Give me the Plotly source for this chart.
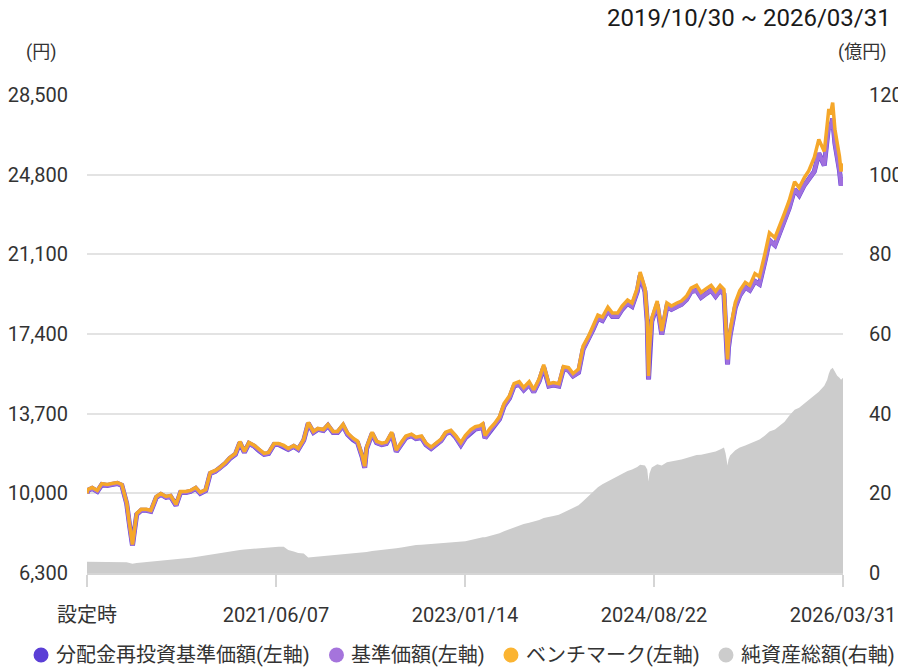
import plotly.graph_objects as go

dates = [
"2019-10-30","2019-11-01","2019-11-15","2019-12-01","2019-12-15",
"2020-01-01","2020-01-15","2020-02-01","2020-02-15","2020-03-01","2020-03-10","2020-03-19",
"2020-04-01","2020-04-15","2020-05-01","2020-05-15","2020-06-01","2020-06-15",
"2020-07-01","2020-07-15","2020-08-01","2020-08-15","2020-09-01","2020-09-15",
"2020-10-01","2020-10-15","2020-11-01","2020-11-15","2020-12-01","2020-12-15",
"2021-01-01","2021-01-15","2021-02-01","2021-02-15","2021-03-01","2021-03-15",
"2021-04-01","2021-04-15","2021-05-01","2021-05-15","2021-06-01","2021-06-15",
"2021-07-01","2021-07-15","2021-08-01","2021-08-15","2021-09-01","2021-09-15",
"2021-10-01","2021-10-15","2021-11-01","2021-11-15","2021-12-01","2021-12-15",
"2022-01-01","2022-01-15","2022-02-01","2022-02-15","2022-03-01","2022-03-09","2022-03-15",
"2022-04-01","2022-04-15","2022-05-01","2022-05-15","2022-06-01","2022-06-15",
"2022-07-01","2022-07-15","2022-08-01","2022-08-15","2022-09-01","2022-09-15",
"2022-10-01","2022-10-15","2022-11-01","2022-11-15","2022-12-01","2022-12-15",
"2023-01-01","2023-01-15","2023-02-01","2023-02-15","2023-03-01","2023-03-10","2023-03-17",
"2023-04-01","2023-04-15","2023-05-01","2023-05-15","2023-06-01","2023-06-15",
"2023-07-01","2023-07-15","2023-08-01","2023-08-15","2023-09-01","2023-09-15",
"2023-10-01","2023-10-15","2023-11-01","2023-11-15","2023-12-01","2023-12-15",
"2024-01-01","2024-01-15","2024-02-01","2024-02-15","2024-03-01","2024-03-15",
"2024-04-01","2024-04-15","2024-05-01","2024-05-15","2024-06-01","2024-06-15",
"2024-07-01","2024-07-10","2024-07-25","2024-08-01","2024-08-05","2024-08-08","2024-08-15",
"2024-09-01","2024-09-15","2024-10-01","2024-10-15","2024-11-01","2024-11-15",
"2024-12-01","2024-12-15",
"2025-01-01","2025-01-15","2025-02-01","2025-02-15","2025-03-01","2025-03-15","2025-03-27",
"2025-04-01","2025-04-07","2025-04-10","2025-04-15","2025-05-01","2025-05-15",
"2025-06-01","2025-06-15","2025-07-01","2025-07-15","2025-08-01","2025-08-15",
"2025-09-01","2025-09-15","2025-10-01","2025-10-15","2025-11-01","2025-11-15",
"2025-12-01","2025-12-15",
"2026-01-01","2026-01-15","2026-02-01","2026-02-10","2026-02-15","2026-02-20","2026-02-27",
"2026-03-06","2026-03-13","2026-03-20","2026-03-25","2026-03-31",
]

nav = [
10000,10130,10230,10090,10410,
10370,10410,10460,10370,9530,8510,7580,
9020,9210,9210,9160,9810,9950,
9810,9860,9440,10040,10040,10090,
10230,10000,10130,10920,11020,11160,
11390,11620,11810,12360,11900,12320,
12180,11990,11810,11850,12270,12270,
12180,12040,12180,12040,12460,13250,
12830,12970,12920,13150,12830,12830,
13140,12730,12490,12350,11700,11190,12080,
12770,12350,12260,12310,12770,11940,
12310,12590,12680,12540,12590,12260,
12080,12260,12450,12770,12860,12630,
12240,12570,12840,12980,13030,13120,12570,
12890,13120,13450,14050,14420,14980,
15070,14800,15070,14700,15210,15860,
14980,15030,14980,15770,15720,15450,
15610,16680,17140,17610,18120,18030,
18490,18210,18210,18540,18820,18680,
19370,20120,19370,17980,15290,16590,17980,
18770,17380,18680,18540,18680,18770,
19000,19370,
19430,19100,19290,19430,19150,19430,19240,
17800,15990,16780,17340,18640,19190,
19570,19430,19850,19710,20780,21750,
21520,22030,22680,23240,24120,23840,
24310,24630,
24950,25790,25230,26480,27150,26950,27400,
26250,25690,25000,24300,24670,
]

nav_reinvested = list(nav)

benchmark = [
10000,10175,10275,10135,10455,
10415,10455,10505,10415,9575,8555,7625,
9065,9255,9255,9205,9855,9995,
9855,9905,9485,10085,10085,10135,
10275,10045,10175,10965,11065,11205,
11435,11665,11855,12405,11945,12365,
12225,12035,11855,11895,12315,12315,
12225,12085,12225,12085,12505,13295,
12875,13015,12965,13195,12875,12875,
13210,12800,12560,12420,11770,11260,12150,
12840,12420,12330,12380,12840,12010,
12380,12660,12750,12610,12660,12330,
12150,12330,12520,12840,12930,12700,
12355,12685,12955,13095,13145,13235,12685,
13005,13235,13565,14165,14535,15095,
15185,14915,15185,14815,15325,15975,
15095,15145,15095,15885,15835,15565,
15770,16840,17300,17770,18280,18190,
18650,18370,18370,18700,18980,18840,
19530,20280,19530,18140,15450,16750,18140,
18930,17540,18840,18700,18840,18930,
19160,19530,
19660,19330,19520,19660,19380,19660,19470,
18030,16220,17010,17570,18870,19420,
19800,19660,20200,20060,21130,22100,
21870,22380,23030,23590,24470,24190,
24660,24980,
25600,26440,25880,27130,27850,27600,28150,
26900,26340,25650,24950,25320,
]

net_assets = [
2.8,2.8,2.8,2.8,2.8,
2.8,2.8,2.8,2.8,2.7,2.5,2.3,
2.5,2.6,2.7,2.9,3.0,3.1,
3.2,3.3,3.4,3.5,3.7,3.8,
4.0,4.2,4.4,4.5,4.7,4.9,
5.2,5.4,5.6,5.8,5.9,6.0,
6.1,6.2,6.4,6.5,6.5,6.6,
6.6,5.8,5.4,5.0,4.9,3.9,
4.0,4.1,4.2,4.4,4.5,4.6,
4.8,4.9,5.0,5.1,5.2,5.2,5.3,
5.5,5.6,5.8,5.9,6.1,6.2,
6.4,6.6,6.9,7.0,7.1,7.2,
7.3,7.3,7.4,7.5,7.6,7.7,
7.9,8.0,8.3,8.6,8.9,9.0,9.0,
9.3,9.6,10.0,10.5,11.0,11.6,
12.0,12.3,12.6,12.9,13.3,13.8,
14.0,14.3,14.6,15.2,15.8,16.3,
17.0,18.0,19.3,20.3,21.5,22.3,
23.0,23.6,24.3,25.0,25.6,26.0,
26.6,27.2,27.0,26.0,23.0,25.0,26.5,
27.3,27.0,27.8,28.0,28.2,28.5,
28.9,29.3,
29.6,29.7,30.0,30.3,30.5,31.0,31.5,
30.0,27.0,28.5,29.5,30.8,31.5,
32.0,32.5,33.0,33.5,34.5,35.5,
36.0,37.0,38.0,39.5,41.0,41.5,
42.5,43.5,
44.5,45.5,47.0,48.5,50.0,51.0,51.5,
50.5,49.5,49.0,48.5,49.0,
]

x_tick_vals = ["2019-10-30", "2021-06-07", "2023-01-14", "2024-08-22", "2026-03-31"]
x_tick_text = ["設定時", "2021/06/07", "2023/01/14", "2024/08/22", "2026/03/31"]
left_ticks = [6300, 10000, 13700, 17400, 21100, 24800, 28500]
right_ticks = [0, 20, 40, 60, 80, 100, 120]
period_label = "2019/10/30 ~ 2026/03/31"

names = ["分配金再投資基準価額(左軸)", "基準価額(左軸)", "ベンチマーク(左軸)", "純資産総額(右軸)"]
legend_colors = ["#5b3fd6", "#a574dc", "#fbb432", "#cccccc"]

FONT = "Roboto, 'Noto Sans CJK JP', sans-serif"

fig = go.Figure()
fig.add_trace(go.Scatter(x=dates, y=net_assets, yaxis="y2", mode="lines",
                         line=dict(width=0, color="#cccccc"), fill="tozeroy",
                         fillcolor="#cccccc", showlegend=False, hoverinfo="skip"))
fig.add_trace(go.Scatter(x=dates, y=nav_reinvested, mode="lines", name=names[0],
                         line=dict(width=5, color="#6a48d8"), showlegend=False))
fig.add_trace(go.Scatter(x=dates, y=nav, mode="lines", name=names[1],
                         line=dict(width=4, color="#a070de"), showlegend=False))
fig.add_trace(go.Scatter(x=dates, y=benchmark, mode="lines", name=names[2],
                         line=dict(width=3.5, color="#f5a72a"), showlegend=False))

# manual legend (circle + text), positioned in paper coordinates
legend_circle_x = [-0.0608, 0.330, 0.5608, 0.8452]
legend_text_x = [-0.0423, 0.3479, 0.5794, 0.8638]
legend_y = -0.1715
shapes = []
annotations = []
for n, c, cx, tx in zip(names, legend_colors, legend_circle_x, legend_text_x):
    shapes.append(dict(type="circle", xref="paper", yref="paper",
                       xsizemode="pixel", ysizemode="pixel",
                       xanchor=cx, yanchor=legend_y,
                       x0=-7.5, x1=7.5, y0=-7.5, y1=7.5,
                       fillcolor=c, line=dict(width=0)))
    annotations.append(dict(text=n, xref="paper", yref="paper", x=tx, y=legend_y,
                            xanchor="left", yanchor="middle", showarrow=False,
                            borderpad=0, font=dict(size=20, color="#333333")))

annotations += [
    dict(text=period_label, xref="paper", yref="paper", x=1.066, y=1.161,
         xanchor="right", yanchor="middle", showarrow=False,
         font=dict(size=24, color="#1a1a1a")),
    dict(text="(円)", xref="paper", yref="paper", x=-0.061, y=1.09,
         xanchor="center", yanchor="middle", showarrow=False,
         font=dict(size=18, color="#333333")),
    dict(text="(億円)", xref="paper", yref="paper", x=1.025, y=1.09,
         xanchor="center", yanchor="middle", showarrow=False,
         font=dict(size=18, color="#333333")),
]

fig.update_layout(
    width=898, height=672,
    margin=dict(l=87, r=55, t=95, b=99, autoexpand=False),
    paper_bgcolor="white", plot_bgcolor="white",
    font=dict(family=FONT, size=20, color="#333333"),
    showlegend=False,
    xaxis=dict(type="date", range=["2019-10-30", "2026-03-31"],
               tickvals=x_tick_vals, ticktext=x_tick_text,
               showgrid=False, showline=True, linecolor="#d5d5d5", linewidth=2,
               ticks="outside", ticklen=12, tickcolor="#d5d5d5", tickwidth=2,
               ticklabelstandoff=11, automargin=False,
               tickfont=dict(size=20, color="#333333"), zeroline=False),
    yaxis=dict(range=[6300, 28500], tickvals=left_ticks, tickformat=",",
               showgrid=True, gridcolor="#e3e3e3", gridwidth=2, automargin=False,
               ticks="outside", ticklen=14, tickcolor="rgba(0,0,0,0)",
               tickfont=dict(size=20, color="#333333"), zeroline=False, showline=False),
    yaxis2=dict(range=[0, 120], tickvals=right_ticks, overlaying="y", side="right",
                showgrid=False, ticks="outside", ticklen=21, tickcolor="rgba(0,0,0,0)",
                automargin=False,
                tickfont=dict(size=20, color="#333333"), zeroline=False, showline=False),
    hovermode=False,
    shapes=shapes,
    annotations=annotations,
)

fig.write_html("out.html", config={"displayModeBar": False, "staticPlot": True},
               post_script="document.body.style.margin='0';document.body.style.overflow='hidden';")
